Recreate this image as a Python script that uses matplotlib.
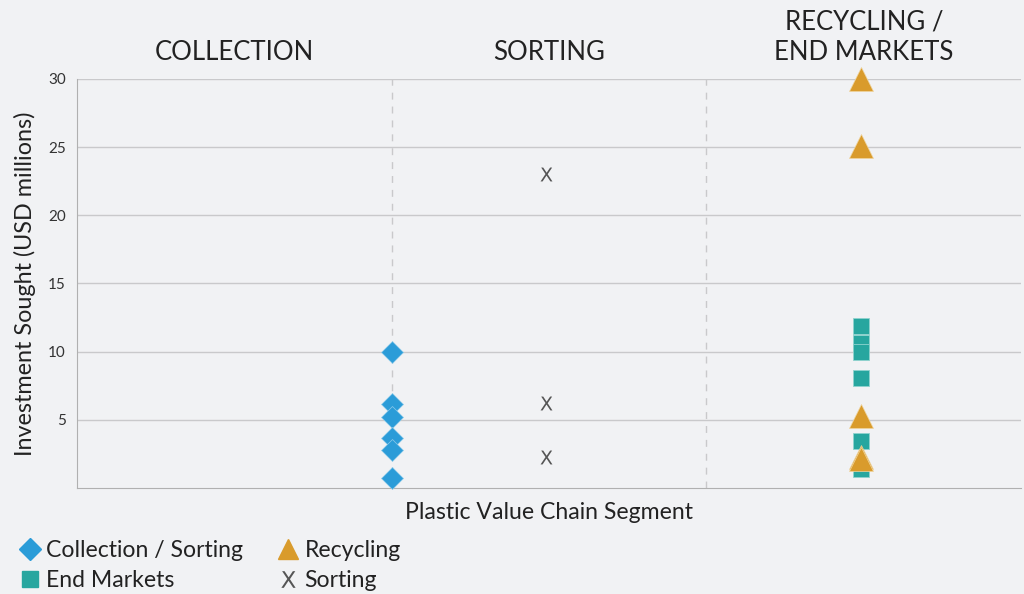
import numpy as np
import matplotlib.pyplot as plt
from matplotlib.lines import Line2D

plt.rcParams['font.family'] = ['Lato', 'DejaVu Sans']

# data (USD millions)
segments = ['COLLECTION', 'SORTING', 'RECYCLING /\nEND MARKETS']
collection_sorting = [10.0, 6.15, 5.2, 3.65, 2.8, 0.75]
sorting = [23.0, 6.25, 2.3]
end_markets = [11.85, 10.6, 9.95, 8.1, 3.45, 1.4]
recycling = [30.0, 25.1, 5.3, 2.3, 2.1]

# x positions of each series on the segment axis
x_coll = 1.0
x_sort = 1.49
x_recy = 2.49

bg = '#f1f2f4'
c_blue = '#2b9cd8'
c_teal = '#27a69f'
c_gold = '#d99b2c'
c_grey = '#555555'

fig = plt.figure(figsize=(10.24, 5.94), dpi=100, facecolor=bg)
ax = fig.add_axes([0.0752, 0.1785, 0.922, 0.6886], facecolor=bg)

ax.set_xlim(0, 3)
ax.set_ylim(0, 30)
ax.set_yticks([5, 10, 15, 20, 25, 30])
ax.set_xticks([])
ax.grid(axis='y', color='#c9c9cb', lw=1)
ax.set_axisbelow(True)
for s in ['top', 'right']:
  ax.spines[s].set_visible(False)
for s in ['left', 'bottom']:
  ax.spines[s].set_color('#b0b0b0')
ax.tick_params(axis='y', length=0, labelsize=11, colors='#333333', pad=8)

# segment dividers
for xd in [1, 2]:
  ax.axvline(xd, color='#c9c9cb', lw=1, ls=(0, (5, 5)), zorder=1)

# segment headers
for i, name in enumerate(segments):
  ax.text(i + 0.5, 1.035, name, transform=ax.get_xaxis_transform(), ha='center', va='bottom',
          fontsize=18.5, color='#222222', linespacing=1.25)

ax.plot([x_coll]*len(collection_sorting), collection_sorting, 'D', ms=11, color=c_blue,
        mec='#8ecbea', mew=0.5, ls='none', zorder=3, clip_on=False)
ax.plot([x_recy]*len(end_markets), end_markets, 's', ms=12, color=c_teal,
        mec='#8fd3ce', mew=0.6, ls='none', zorder=3, clip_on=False)
ax.plot([x_recy]*len(recycling), recycling, '^', ms=17, color=c_gold,
        mec='#f0d59f', mew=0.5, ls='none', zorder=4, clip_on=False)
ax.plot([x_sort]*len(sorting), sorting, marker=r'$\mathsf{X}$', ms=10, color=c_grey,
        mew=0, ls='none', zorder=3)

ax.set_xlabel('Plastic Value Chain Segment', fontsize=16.6, color='#222222', labelpad=10)
ax.set_ylabel('Investment Sought (USD millions)', fontsize=16.8, color='#222222', labelpad=9)

handles = [
  Line2D([], [], marker='D', ms=11, color=c_blue, ls='none'),
  Line2D([], [], marker='s', ms=12, color=c_teal, ls='none'),
  Line2D([], [], marker='^', ms=15, color=c_gold, ls='none'),
  Line2D([], [], marker=r'$\mathsf{X}$', ms=12, color=c_grey, mew=0, ls='none'),
]
labels = ['Collection / Sorting', 'End Markets', 'Recycling', 'Sorting']
fig.legend(handles, labels, ncol=2, loc='lower left', bbox_to_anchor=(-0.002, -0.03),
           frameon=False, fontsize=16.6, handlelength=1.0, handletextpad=0.2,
           columnspacing=1.45, labelspacing=0.38, labelcolor='#222222')

fig.savefig('out.png', dpi=100, facecolor=bg)
